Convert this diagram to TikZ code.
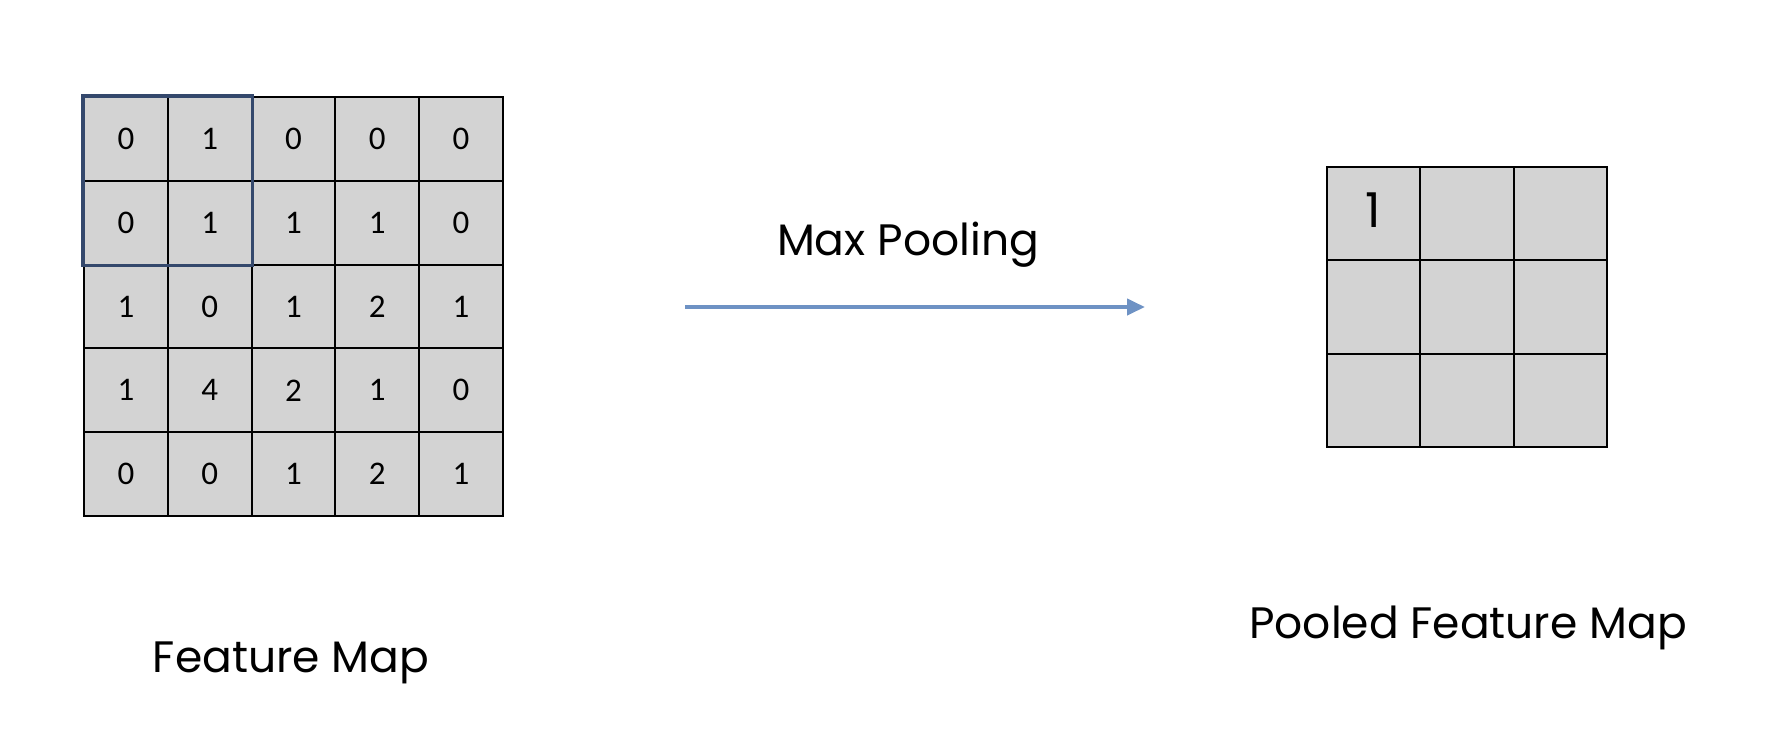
\documentclass[tikz,border=0pt]{standalone}
\usepackage{fontspec}
\setmainfont{Poppins}
\newfontfamily\cellfont{Carlito}
\usetikzlibrary{arrows.meta}
\definecolor{cellgray}{RGB}{211,211,211}
\definecolor{windowblue}{RGB}{52,72,108}
\definecolor{arrowblue}{RGB}{110,146,196}
\tikzset{
    cell/.style = {draw=black, fill=cellgray, line width=1pt, minimum size=41.9pt, inner sep=0pt, font=\cellfont\fontsize{16.5}{16.5}\selectfont},
    pcell/.style = {draw=black, fill=cellgray, line width=1pt, minimum size=46.6pt, inner sep=0pt},
    pvalue/.style = {inner sep=0pt, font=\fontsize{24}{24}\selectfont},
    caption/.style = {anchor=base, inner sep=0pt, font=\fontsize{22}{22}\selectfont},
    window/.style = {draw=windowblue, line width=1.8pt}
}

\begin{document}
\begin{tikzpicture}[x=0.5pt,y=-0.5pt]
    \useasboundingbox (0,0) rectangle (1790,746);
    % feature map
    \foreach [count=\r] \row in {{0,1,0,0,0},{0,1,1,1,0},{1,0,1,2,1},{1,4,2,1,0},{0,0,1,2,1}}
        \foreach [count=\c] \v in \row
            \node [cell] (f-\r-\c) at ({84+83.8*(\c-0.5)},{97+83.8*(\r-0.5)}) {\v};
    \draw [window] (f-1-1.north west) rectangle (f-2-2.south east);
    \node [caption] (fmap-label) at (291,672) {Feature Map};
    % pooling step
    \coordinate (pool-start) at (685,307);
    \coordinate (pool-end) at (1145,307);
    \draw [arrowblue, line width=2pt, -{Triangle[length=9pt,width=8pt]}] (pool-start) -- (pool-end);
    \node [caption] (pool-label) at (908,255) {Max Pooling};
    % pooled feature map
    \foreach \r in {1,2,3}
        \foreach \c in {1,2,3}
            \node [pcell] (p-\r-\c) at ({1327+93.3*(\c-0.5)},{167+93.3*(\r-0.5)}) {};
    \node [pvalue] (p-max) at ([yshift=2pt]p-1-1) {1};
    \node [caption] (pmap-label) at (1468,638) {Pooled Feature Map};
\end{tikzpicture}
\end{document}
